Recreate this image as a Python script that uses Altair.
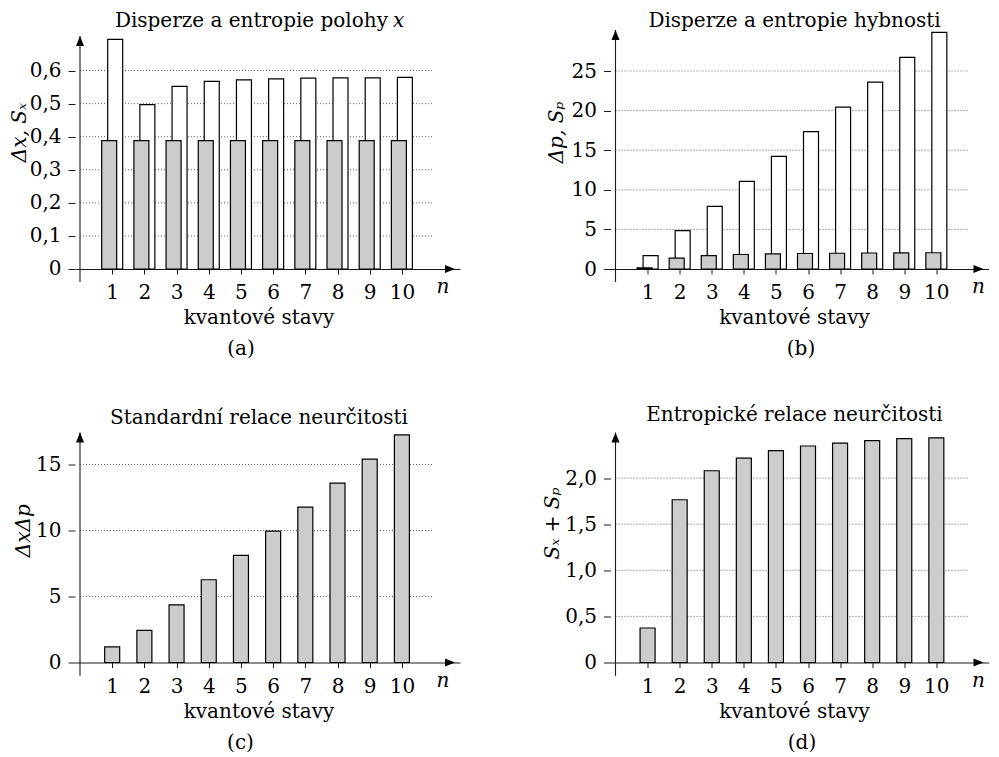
import altair as alt
import pandas as pd

# ---------------- data ----------------
n = [1, 2, 3, 4, 5, 6, 7, 8, 9, 10]
delta_x = [0.694, 0.497, 0.552, 0.567, 0.572, 0.575, 0.577, 0.578, 0.578, 0.579]
s_x = [0.388, 0.388, 0.388, 0.388, 0.388, 0.388, 0.388, 0.388, 0.388, 0.388]
delta_p = [1.68, 4.84, 7.91, 11.07, 14.23, 17.34, 20.45, 23.60, 26.73, 29.89]
s_p = [0.15, 1.38, 1.69, 1.83, 1.91, 1.96, 1.99, 2.02, 2.04, 2.05]
dx_dp = [1.19, 2.43, 4.37, 6.27, 8.11, 9.95, 11.77, 13.59, 15.41, 17.25]
sx_sp = [0.374, 1.765, 2.08, 2.217, 2.297, 2.348, 2.38, 2.406, 2.428, 2.437]

ticks_a = [0, 0.1, 0.2, 0.3, 0.4, 0.5, 0.6]
ticks_b = [0, 5, 10, 15, 20, 25]
ticks_c = [0, 5, 10, 15]
ticks_d = [0, 0.5, 1.0, 1.5, 2.0]

FONT = "DejaVu Serif"
FS = 20
GRAY = "#cccccc"
INK = "#1a1a1a"
COMMA = "datum.value == 0 ? '0' : replace(format(datum.value, '.1f'), '.', ',')"
INT = "format(datum.value, 'd')"


def panel(width, height, xmax, ymin, ymax, tip, ticks, label_expr, bars,
          title, title_y, ylab, ylab_x, ylab_y, cap, cap_x, zero_below, title_var=None):
    zero_px = height - zero_below
    xs = alt.Scale(domain=[0, xmax], nice=False, zero=False)
    ys = alt.Scale(domain=[ymin, ymax], nice=False, zero=False)
    xaxis = alt.Axis(values=n, tickSize=5, tickColor=INK, tickWidth=1,
                     labelPadding=24.5, labelBaseline="alphabetic",
                     labelFont=FONT, labelFontSize=FS, labelColor="black",
                     offset=-zero_below, domainColor=INK, domainWidth=1.1,
                     grid=False, title=None)
    yaxis = alt.Axis(values=ticks, labelExpr=label_expr, tickSize=7,
                     tickColor=INK, tickWidth=1, labelPadding=7,
                     labelFont=FONT, labelFontSize=FS, labelColor="black",
                     domain=False, grid=False, title=None)

    grid_df = pd.DataFrame({"v": [t for t in ticks if t != 0]})
    grid = alt.Chart(grid_df).mark_rule(
        strokeDash=[1, 2], color="#555555", strokeWidth=0.9
    ).encode(x=alt.datum(0, scale=xs), x2=alt.datum(11), y=alt.Y("v:Q", scale=ys, axis=yaxis))

    layers = [grid]
    for values, fill, off in bars:
        df = pd.DataFrame({"n": n, "v": values})
        layers.append(
            alt.Chart(df).mark_bar(size=15, xOffset=off, fill=fill, stroke="black",
                                   strokeWidth=1.2).encode(
                x=alt.X("n:Q", scale=xs, axis=xaxis),
                y=alt.Y("v:Q", scale=ys, axis=yaxis),
                y2=alt.datum(0),
            )
        )

    one = pd.DataFrame({"d": [0]})
    yline = alt.Chart(one).mark_rule(color=INK, strokeWidth=1.1).encode(
        x=alt.datum(0), y=alt.datum(ymin), y2=alt.datum(tip))
    up = alt.Chart(one).mark_point(shape="M0,-1L-0.8,1L0.8,1Z", size=100, filled=True,
                                   color="black", opacity=1, yOffset=5).encode(
        x=alt.datum(0), y=alt.datum(tip))
    right = alt.Chart(one).mark_point(shape="M1,0L-1,-0.8L-1,0.8Z", size=100, filled=True,
                                      color="black", opacity=1, xOffset=-5).encode(
        x=alt.datum(xmax), y=alt.datum(0))

    def txt(s, x, y, style="normal", angle=0, align="center"):
        kw = dict(font=FONT, fontSize=FS, fontStyle=style, color="black",
                  align=align, baseline="alphabetic", text=s)
        if angle:
            kw["angle"] = angle
        return alt.Chart(one).mark_text(**kw).encode(x=alt.value(x), y=alt.value(y))

    if title_var:
        title_marks = [txt(title, 313, title_y, align="right"),
                       txt(title_var, 318, title_y, "italic", align="left")]
    else:
        title_marks = [txt(title, 184, title_y)]

    texts = title_marks + [
        txt("kvantové stavy", 184, zero_px + 55.4),
        txt("n", 368, zero_px + 24, "italic"),
        txt(cap, cap_x, zero_px + 86),
        txt(ylab, ylab_x, ylab_y, "italic", 270),
    ]
    return alt.layer(*layers, yline, up, right, *texts).properties(width=width, height=height)


a = panel(385, 252, 11.65, -0.0393, 0.7225, 0.7044, ticks_a, COMMA,
          [(delta_x, "white", 3), (s_x, GRAY, -3)],
          "Disperze a entropie polohy", -3.3, "Δx, Sₓ", -49.4, 102.5, "(a)", 166, 13,
          title_var="x")
b = panel(378, 252, 11.47, -1.641, 30.18, 30.18, ticks_b, INT,
          [(delta_p, "white", 3), (s_p, GRAY, -3)],
          "Disperze a entropie hybnosti", -3.3, "Δp, Sₚ", -47.6, 102.5, "(b)", 190.5, 13)
c = panel(385, 243.3, 11.65, -1.0076, 17.424, 17.424, ticks_c, INT,
          [(dx_dp, GRAY, 0)],
          "Standardní relace neurčitosti", -8.4, "ΔxΔp", -44.7, 98.3, "(c)", 165.5, 13.3)
d = panel(378, 243.3, 11.47, -0.1443, 2.4946, 2.4946, ticks_d, COMMA,
          [(sx_sp, GRAY, 0)],
          "Entropické relace neurčitosti", -11.7, "Sₓ + Sₚ", -51.7, 91, "(d)", 191.5, 13.3)

chart = alt.concat(a, b, c, d, columns=2, spacing=150.5, bounds="flush").properties(
    padding={"left": 1, "top": 2, "right": 0, "bottom": 0}
).configure_view(strokeWidth=0)

chart.save("out.html", embed_options={"renderer": "svg", "actions": False})
